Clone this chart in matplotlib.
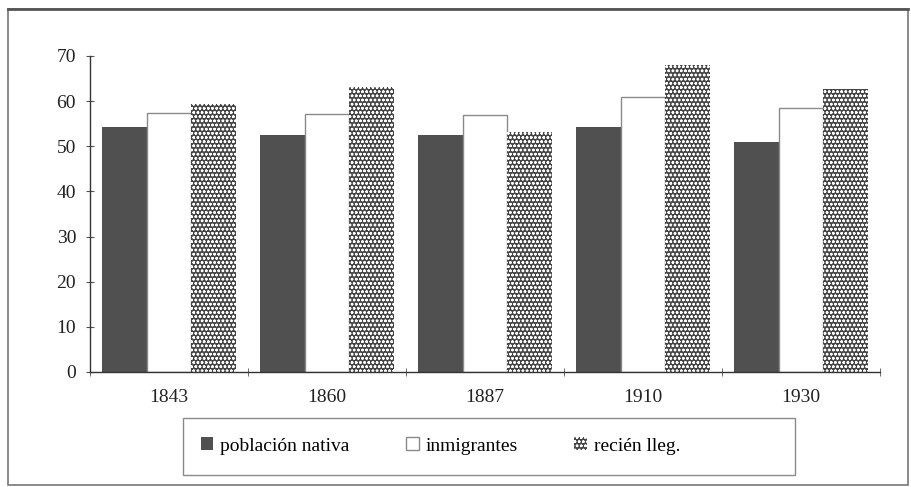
import numpy as np
import matplotlib
matplotlib.use("Agg")
import matplotlib.pyplot as plt
from matplotlib.patches import Rectangle

years = ['1843', '1860', '1887', '1910', '1930']
nativa = [54.2, 52.4, 52.5, 54.3, 51.0]
inmigrantes = [57.4, 57.2, 56.9, 60.9, 58.4]
recien = [59.4, 63.2, 53.2, 68.0, 62.7]
labels = ['población nativa', 'inmigrantes', 'recién lleg.']

plt.rcParams['font.family'] = ['Liberation Serif', 'DejaVu Serif']
plt.rcParams['hatch.linewidth'] = 0.7

fig = plt.figure(figsize=(9.12, 4.87), dpi=100)
ax = fig.add_axes([90/912, 1-372/487, 790/912, 316/487])

x = np.arange(len(years)) + 0.5
w = 0.283
ax.bar(x - w, nativa, w, color='#505050', linewidth=0, label=labels[0])
ax.bar(x, inmigrantes, w, color='white', edgecolor='#8a8a8a', linewidth=1, label=labels[1])
ax.bar(x + w, recien, w, color='#454545', edgecolor='white', hatch='oooo', linewidth=0, label=labels[2])

ax.set_xlim(0, 5)
ax.set_ylim(0, 70)
ax.set_yticks(range(0, 71, 10))
ax.set_xticks(x)
ax.set_xticklabels(years)
ax.set_xticks(np.arange(0, 6), minor=True)

for s in ['top', 'right']:
    ax.spines[s].set_visible(False)
for s in ['left', 'bottom']:
    ax.spines[s].set_color('#333333')
    ax.spines[s].set_linewidth(1.0)

ax.tick_params(axis='x', which='major', length=0, pad=12, labelsize=14, colors='#222222')
ax.tick_params(axis='x', which='minor', direction='inout', length=6, color='#555555')
ax.tick_params(axis='y', direction='inout', length=6, pad=7, labelsize=14, color='#555555', labelcolor='#222222')

# legend box
fig.patches.append(Rectangle((183/912, 1-475/487), 612/912, 57/487, transform=fig.transFigure,
                             fill=False, edgecolor='#8a8a8a', linewidth=1))
leg = fig.legend(loc='center left', bbox_to_anchor=(193/912, 1-446/487), ncol=3, frameon=False,
                 fontsize=14, handlelength=0.65, handleheight=0.65, handletextpad=0.35,
                 columnspacing=2.9, borderaxespad=0)

# outer border
fig.patches.append(Rectangle((8/912, 1-485/487), 900/912, 476/487, transform=fig.transFigure,
                             fill=False, edgecolor='#777777', linewidth=1.2))
fig.add_artist(plt.Line2D([8/912, 908/912], [1-9/487, 1-9/487], transform=fig.transFigure,
                          color='#555555', linewidth=2))

fig.savefig('out.png', dpi=100)
